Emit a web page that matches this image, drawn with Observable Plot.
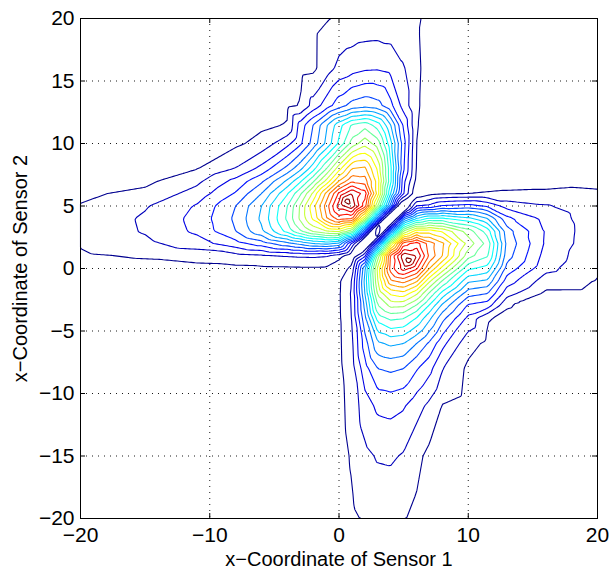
<!DOCTYPE html>
<html>
<head>
<meta charset="utf-8">
<script src="https://cdn.jsdelivr.net/npm/d3@7"></script>
<script src="https://cdn.jsdelivr.net/npm/@observablehq/plot@0.6"></script>
<style>
  body { margin: 0; background: #fff; }
  svg { display: block; }
</style>
</head>
<body>
<div id="chart"></div>
<script>
// Sample coordinates (same for both sensor axes)
const gridPts = [-20, -15, -11, -8, -6, -4, -3, -2, -1, 0, 1, 2, 3, 4, 5, 6, 7, 8, 10, 11.5, 13, 16, 20];

// Field level at (x = gridPts[i], y = gridPts[j]) for i <= j.
// The field is symmetric in the two sensor coordinates, so each row
// also gives the values at (x = gridPts[j], y = gridPts[i]).
const fieldRows = [
  [0.15],
  [0.2, 0.2],
  [0.2, 0.2, 0.2],
  [0.25, 0.25, 0.25, 0.25],
  [0.3, 0.3, 0.3, 0.3, 0.3],
  [0.3, 0.35, 0.35, 0.35, 0.35, 0.3],
  [0.35, 0.4, 0.4, 0.4, 0.4, 0.4, 0.3],
  [0.4, 0.45, 0.45, 0.45, 0.45, 0.45, 0.45, 0.3],
  [0.45, 0.5, 0.52, 0.55, 0.55, 0.55, 0.55, 0.5, 0.25],
  [0.55, 0.65, 0.72, 0.78, 0.82, 0.85, 0.87, 0.88, 0.85, 0.15],
  [0.85, 1.1, 1.35, 1.6, 1.8, 2.0, 2.1, 2.15, 2.0, 1.4, 0.05],
  [1.1, 1.75, 2.55, 3.6, 4.5, 5.7, 6.3, 7.0, 7.3, 6.8, 2.8, 0],
  [1.18, 2.1, 3.2, 5.0, 6.8, 9.4, 10.9, 12.2, 13.0, 13.3, 11.5, 5.0, 1.5],
  [1.18, 2.15, 3.3, 5.2, 7.2, 10.2, 12.2, 14.2, 16.8, 18.5, 18.2, 13, 5.5, 0],
  [1.05, 1.9, 3.1, 5.0, 7.0, 10.0, 12.1, 14.6, 17.4, 20.5, 21.8, 18.5, 12, 5.5, 0],
  [0.82, 1.25, 2.4, 4.1, 6.0, 8.9, 10.8, 13.2, 16.2, 19.2, 21.0, 19.5, 14.5, 8.0, 3.0, 0.1],
  [0.7, 0.75, 1.75, 3.3, 4.8, 7.2, 8.8, 10.8, 13.2, 16.0, 17.8, 17.5, 14.5, 9.2, 3.3, 0.7, 0.2],
  [0.6, 0.7, 0.95, 2.05, 3.3, 5.3, 6.7, 8.6, 10.9, 13.6, 16.0, 16.2, 13.8, 9.2, 4.1, 0.9, 0.55, 0.3],
  [0.4, 0.5, 0.62, 0.8, 1.35, 2.7, 3.8, 5.4, 7.2, 9.2, 11.4, 12.6, 11.5, 8.3, 4.4, 1.0, 0.7, 0.6, 0.45],
  [0.37, 0.45, 0.55, 0.65, 0.8, 1.05, 3.4, 5.0, 6.8, 8.6, 10.1, 10.6, 9.5, 7.0, 3.8, 1.05, 0.7, 0.6, 0.5, 0.45],
  [0.35, 0.42, 0.5, 0.6, 0.68, 0.85, 1.05, 2.4, 3.5, 4.6, 5.4, 5.7, 5.4, 4.3, 2.6, 1.1, 0.7, 0.6, 0.5, 0.45, 0.4],
  [0.3, 0.35, 0.42, 0.5, 0.57, 0.65, 0.7, 0.8, 1.5, 2.3, 2.6, 2.85, 2.9, 2.7, 2.1, 1.15, 0.7, 0.6, 0.5, 0.46, 0.42, 0.35],
  [0.25, 0.3, 0.35, 0.4, 0.45, 0.55, 0.65, 0.78, 0.95, 1.1, 1.2, 1.27, 1.3, 1.28, 1.2, 1.08, 0.85, 0.7, 0.55, 0.5, 0.45, 0.38, 0.3]
];

// Extra samples on the diagonal x = y (the valley between the two lobes): [t, level]
const diagonalSamples = [
  [-3.5, 0.3], [-2.5, 0.3], [-1.5, 0.28], [-0.5, 0.2], [0.5, 0.1], [1.5, 0], [2.5, 0],
  [3.5, 0], [4.5, 0], [5.5, 0.05], [6.5, 0.15], [7.5, 0.25], [8.5, 0.3], [9, 0.35], [9.5, 0.4]
];

// Samples along the edge of the valley (upper-left side; mirrored below it): [x, y, level]
const valleyEdgeSamples = [
  [1.25, 1.75, 0.92], [1.75, 2.25, 0.92], [2.25, 2.75, 0.92], [2.75, 3.25, 0.6],
  [3.25, 3.75, 0.92], [3.75, 4.25, 0.92], [4.25, 4.75, 0.92], [4.75, 5.25, 0.92]
];

// The maximum of the upper-left lobe (mirrored for the lower-right one)
const peakSamples = [
  [0.6, 5.4, 22.6]
];

const contourLevels = d3.range(1, 23);
const xTicks = [-20, -10, 0, 10, 20];
const yTicks = [-20, -15, -10, -5, 0, 5, 10, 15, 20];
const xLabel = "x\u2212Coordinate of Sensor 1";
const yLabel = "x\u2212Coordinate of Sensor 2";

// jet colour map stops
const jetStops = ["#00008f", "#0000ff", "#00ffff", "#ffff00", "#ff0000", "#800000"];
const jetPos = [0, 1 / 8, 3 / 8, 5 / 8, 7 / 8, 1];

const samples = [];
const addPair = (x, y, v) => {
  samples.push({x, y, v});
  if (x !== y) samples.push({x: y, y: x, v});
};
fieldRows.forEach((row, j) => row.forEach((v, i) => addPair(gridPts[i], gridPts[j], v)));
diagonalSamples.forEach(([t, v]) => addPair(t, t, v));
valleyEdgeSamples.forEach(([x, y, v]) => addPair(x, y, v));
peakSamples.forEach(([x, y, v]) => addPair(x, y, v));

const W = 609, H = 572;
const mL = 80, mR = 12, mT = 18, mB = 54;
const frameW = W - mL - mR, frameH = H - mT - mB;
const tickLen = 5;
const fs = 21;
const labelFs = 20;
const lo = contourLevels[0], hi = contourLevels[contourLevels.length - 1];
const font = "'Liberation Sans', Arial, Helvetica, sans-serif";

const chart = Plot.plot({
  width: W,
  height: H,
  marginLeft: mL,
  marginRight: mR,
  marginTop: mT,
  marginBottom: mB,
  style: {fontFamily: font, fontSize: `${fs}px`, background: "#fff", color: "#000"},
  x: {domain: [-20, 20]},
  y: {domain: [-20, 20]},
  color: {type: "linear", domain: jetPos.map(t => lo + t * (hi - lo)), range: jetStops, interpolate: "rgb"},
  marks: [
    Plot.gridX(xTicks, {stroke: "#000", strokeOpacity: 0.9, strokeWidth: 1, strokeDasharray: "1,5"}),
    Plot.gridY(yTicks, {stroke: "#000", strokeOpacity: 0.9, strokeWidth: 1, strokeDasharray: "1,5"}),
    Plot.contour(samples, {
      x: "x", y: "y", value: "v",
      x1: -20, x2: 20, y1: -20, y2: 20,
      interpolate: "barycentric",
      thresholds: contourLevels,
      stroke: "value", fill: "none", strokeWidth: 1.1
    }),
    Plot.tickX(xTicks, {x: d => d, insetTop: frameH - tickLen, stroke: "#000"}),
    Plot.tickX(xTicks, {x: d => d, insetBottom: frameH - tickLen, stroke: "#000"}),
    Plot.tickY(yTicks, {y: d => d, insetRight: frameW - tickLen, stroke: "#000"}),
    Plot.tickY(yTicks, {y: d => d, insetLeft: frameW - tickLen, stroke: "#000"}),
    Plot.frame({stroke: "#000", strokeWidth: 1}),
    Plot.axisX(xTicks, {tickSize: 0, tickPadding: 9, fontSize: fs, label: null}),
    Plot.axisY(yTicks, {tickSize: 0, tickPadding: 6, fontSize: fs, label: null}),
    Plot.text([xLabel], {frameAnchor: "bottom", dy: 47, text: d => d, fontSize: labelFs}),
    Plot.text([yLabel], {frameAnchor: "left", dx: -60, rotate: -90, textAnchor: "middle", text: d => d, fontSize: labelFs})
  ]
});

document.getElementById("chart").append(chart);
</script>
</body>
</html>
